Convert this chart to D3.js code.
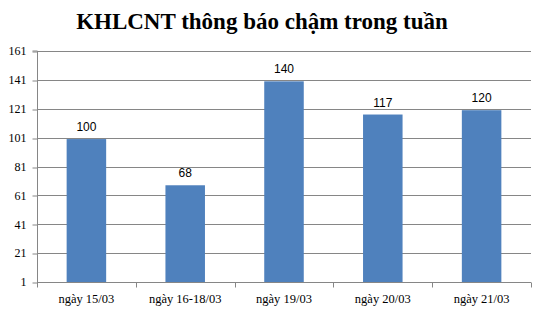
<!DOCTYPE html>
<html><head><meta charset="utf-8">
<script src="https://cdn.jsdelivr.net/npm/d3@7"></script>
<style>body{margin:0;background:#fff}svg{display:block}</style>
</head><body>
<svg id="c" width="542" height="312"></svg>
<script>
const categories = ["ngày 15/03","ngày 16-18/03","ngày 19/03","ngày 20/03","ngày 21/03"];
const values = [100, 68, 140, 117, 120];
const yTicks = [1, 21, 41, 61, 81, 101, 121, 141, 161];
const title = "KHLCNT thông báo chậm trong tuần";

const svg = d3.select("#c");
const m = {l:37, r:531, t:51, b:282};
const x = d3.scaleBand().domain(categories).range([m.l, m.r]).paddingInner(0.6).paddingOuter(0.3);
const xb = d3.scaleBand().domain(categories).range([m.l, m.r]);
const y = d3.scaleLinear().domain([1,161]).range([m.b, m.t]);

svg.append("text").attr("x", 262).attr("y", 29).attr("text-anchor","middle")
  .attr("font-family","'Liberation Serif','Times New Roman',serif").attr("font-weight","bold")
  .attr("font-size", 23).attr("fill","#000").text(title);

// gridlines
svg.append("g").selectAll("line").data(yTicks.slice(1)).join("line")
  .attr("x1", m.l).attr("x2", m.r).attr("y1", d=>Math.round(y(d))+0.5).attr("y2", d=>Math.round(y(d))+0.5)
  .attr("stroke","#868686").attr("stroke-width",1);

// y axis
const ya = svg.append("g").attr("transform",`translate(${m.l+0.5},0)`)
  .call(d3.axisLeft(y).tickValues(yTicks).tickSize(5).tickPadding(6).tickFormat(d3.format("d")));
ya.select(".domain").attr("stroke","#868686").attr("d",`M-5,${y(161)}H0V${y(1)}`);
ya.selectAll(".tick line").attr("stroke","#868686");
ya.selectAll(".tick line").attr("transform", d=>`translate(0,${Math.round(y(d))+0.5-y(d)})`);
ya.selectAll("text").attr("font-family","'Liberation Serif','Times New Roman',serif").attr("font-size",12).attr("fill","#000");

// bars
svg.append("g").selectAll("rect").data(values).join("rect")
  .attr("x",(d,i)=>x(categories[i])).attr("width",x.bandwidth())
  .attr("y",d=>y(d)).attr("height",d=>y(1)-y(d)).attr("fill","#4F81BD");

// x axis
const xa = svg.append("g").attr("transform",`translate(0,${Math.round(m.b)+0.5})`);
xa.append("line").attr("x1",m.l).attr("x2",m.r).attr("stroke","#868686");
xa.selectAll(".tk").data(categories.concat(["end"])).join("line").attr("class","tk")
  .attr("x1",(d,i)=>Math.round(m.l + i*xb.step())+0.5).attr("x2",(d,i)=>Math.round(m.l + i*xb.step())+0.5)
  .attr("y1",0).attr("y2",5).attr("stroke","#868686");
xa.selectAll("text").data(categories).join("text")
  .attr("x",d=>xb(d)+xb.bandwidth()/2).attr("y",20).attr("text-anchor","middle")
  .attr("font-family","'Liberation Serif','Times New Roman',serif").attr("font-size",12.5).attr("fill","#000")
  .text(d=>d);

// data labels
svg.append("g").selectAll("text").data(values).join("text")
  .attr("x",(d,i)=>x(categories[i])+x.bandwidth()/2).attr("y",d=>y(d)-8).attr("text-anchor","middle")
  .attr("font-family","'Liberation Sans',Arial,sans-serif").attr("font-size",12).attr("fill","#000")
  .text(d=>d);
</script>
</body></html>
